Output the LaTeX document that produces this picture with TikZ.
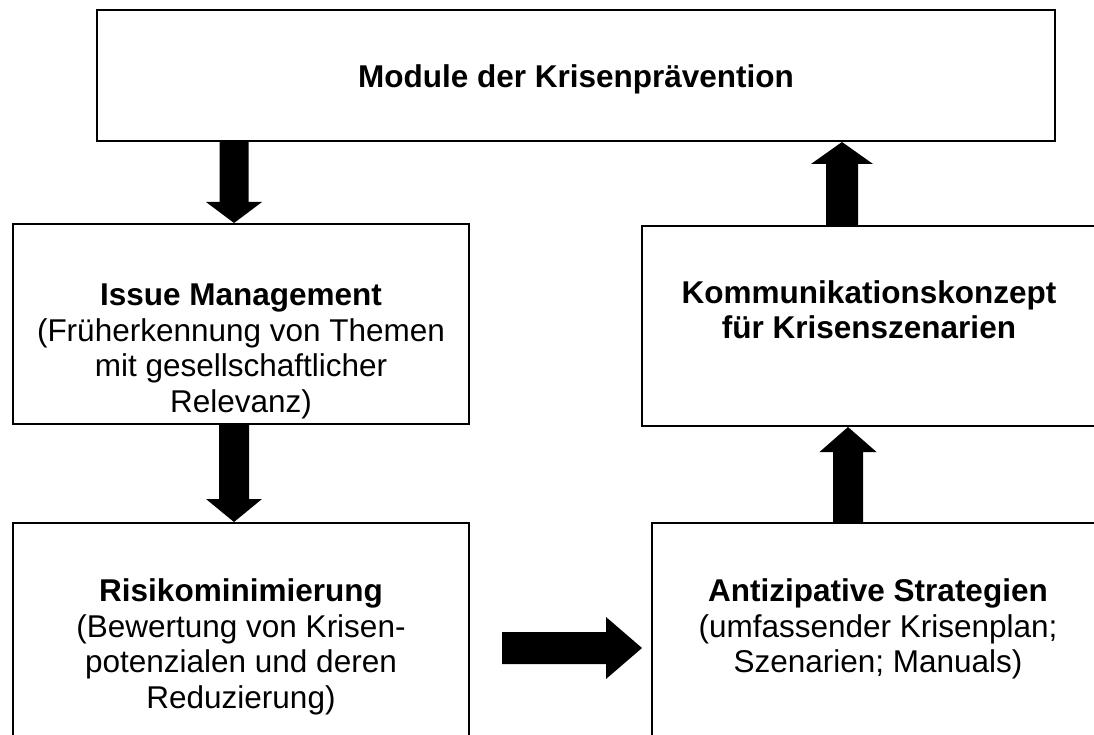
\documentclass[tikz,border=0pt]{standalone}
\usepackage{fontspec}
\setmainfont{Liberation Sans}
\usetikzlibrary{calc}

% block arrows drawn as filled outlines between two points
% #1 start, #2 tip, #3 half shaft width, #4 half head width, #5 head length
\newcommand\arrowdown[5]{%
  \fill[blockfill] let \p1=(#1), \p2=(#2) in
    (\x1-#3,\y1) -- (\x1+#3,\y1) -- (\x1+#3,\y2+#5) -- (\x1+#4,\y2+#5)
    -- (\x1,\y2) -- (\x1-#4,\y2+#5) -- (\x1-#3,\y2+#5) -- cycle;}
\newcommand\arrowup[5]{%
  \fill[blockfill] let \p1=(#1), \p2=(#2) in
    (\x1-#3,\y1) -- (\x1+#3,\y1) -- (\x1+#3,\y2-#5) -- (\x1+#4,\y2-#5)
    -- (\x1,\y2) -- (\x1-#4,\y2-#5) -- (\x1-#3,\y2-#5) -- cycle;}
\newcommand\arrowright[5]{%
  \fill[blockfill] let \p1=(#1), \p2=(#2) in
    (\x1,\y1+#3) -- (\x2-#5,\y1+#3) -- (\x2-#5,\y1+#4) -- (\x2,\y1)
    -- (\x2-#5,\y1-#4) -- (\x2-#5,\y1-#3) -- (\x1,\y1-#3) -- cycle;}

\tikzset{
  box/.style={draw=black, line width=2pt, fill=white, inner sep=0pt, rectangle},
  txt/.style={inner sep=0pt, anchor=base, font=\fontsize{31.5}{36}\selectfont},
  ttl/.style={txt, font=\fontsize{31.5}{36}\selectfont\bfseries},
  blockfill/.style={fill=black},
}

\begin{document}
\begin{tikzpicture}[x=1pt, y=-1pt]
  \useasboundingbox (0,0) rectangle (1094,735);
  \fill[white] (0,0) rectangle (1094,735);
  \clip (0,0) rectangle (1094,735);

  % boxes
  \node[box, minimum width=958pt, minimum height=131pt] (topbox) at (576,75.5) {};
  \node[box, minimum width=456pt, minimum height=200pt] (issue) at (241,324) {};
  \node[box, minimum width=456pt, minimum height=250pt] (risk) at (241,648) {};
  \node[box, minimum width=454pt, minimum height=200pt] (komm) at (869,326) {};
  \node[box, minimum width=452pt, minimum height=250pt] (anti) at (878,648) {};

  % texts
  \node[ttl] (t-top) at (576,88) {Module der Krisenprävention};

  \node[ttl] (t-issue1) at (241,305) {Issue Management};
  \node[txt] (t-issue2) at (241,341) {(Früherkennung von Themen};
  \node[txt] (t-issue3) at (241,376) {mit gesellschaftlicher};
  \node[txt] (t-issue4) at (241,412) {Relevanz)};

  \node[ttl] (t-komm1) at (869,303) {Kommunikationskonzept};
  \node[ttl] (t-komm2) at (869,338) {für Krisenszenarien};

  \node[ttl] (t-risk1) at (241,601) {Risikominimierung};
  \node[txt] (t-risk2) at (241,637) {(Bewertung von Krisen-};
  \node[txt] (t-risk3) at (241,672) {potenzialen und deren};
  \node[txt] (t-risk4) at (241,708) {Reduzierung)};

  \node[ttl] (t-anti1) at (878,601) {Antizipative Strategien};
  \node[txt] (t-anti2) at (878,637) {(umfassender Krisenplan;};
  \node[txt] (t-anti3) at (878,672) {Szenarien; Manuals)};

  % arrow axes
  \coordinate (ax) at (234,0);
  \coordinate (bx) at (848,0);
  \coordinate (cx) at (842,0);
  \coordinate (c1) at (502,648);
  \coordinate (c2) at (642,648);

  % connectors
  \arrowdown{topbox.south -| ax}{issue.north -| ax}{14.5pt}{28pt}{21pt}
  \arrowdown{issue.south -| ax}{risk.north -| ax}{15pt}{28pt}{23pt}
  \arrowright{c1}{c2}{16pt}{31pt}{36pt}
  \arrowup{anti.north -| bx}{komm.south -| bx}{15pt}{28.5pt}{25pt}
  \arrowup{komm.north -| cx}{topbox.south -| cx}{16pt}{31pt}{22pt}
\end{tikzpicture}
\end{document}
